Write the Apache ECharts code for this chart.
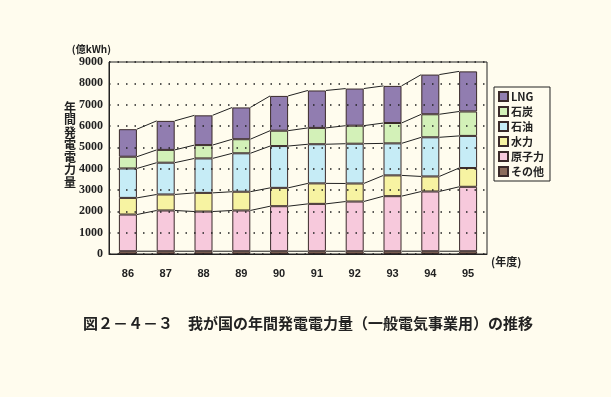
<!DOCTYPE html>
<html>
<head>
<meta charset="utf-8">
<script src="https://cdn.jsdelivr.net/npm/echarts@6/dist/echarts.min.js"></script>
<style>
  html, body { margin: 0; padding: 0; background: #fffcee; }
  #chart { width: 611px; height: 397px; }
</style>
</head>
<body>
<div id="chart"></div>
<script>
// 年度
var years = ['86', '87', '88', '89', '90', '91', '92', '93', '94', '95'];
// 億kWh
var other   = [130, 130, 130, 130, 130, 130, 130, 130, 130, 130];
var nuclear = [1720, 1910, 1860, 1910, 2110, 2220, 2330, 2580, 2800, 3020];
var hydro   = [780, 750, 875, 880, 860, 960, 845, 975, 705, 880];
var oil     = [1380, 1490, 1615, 1800, 1960, 1835, 1865, 1500, 1835, 1505];
var coal    = [550, 600, 625, 660, 720, 765, 845, 955, 1080, 1145];
var lng     = [1290, 1360, 1395, 1490, 1630, 1755, 1740, 1740, 1860, 1880];

var names = ['その他', '原子力', '水力', '石油', '石炭', 'LNG'];
var colors = ['#8c6c5c', '#f7c9dc', '#f7f3a2', '#c6ecf6', '#d3f1b8', '#917db0'];
var layers = [other, nuclear, hydro, oil, coal, lng];

// 各境界の累積値
var cum = [];
var run = years.map(function () { return 0; });
layers.forEach(function (arr) {
    run = run.map(function (v, i) { return v + arr[i]; });
    cum.push(run.slice());
});

var barW = 18;
var myChart = echarts.init(document.getElementById('chart'));

var series = layers.map(function (arr, k) {
    return {
        name: names[k],
        type: 'bar',
        stack: 'total',
        barWidth: barW,
        data: arr,
        itemStyle: { color: colors[k], borderColor: '#3a2a2a', borderWidth: 1 }
    };
});

// 棒と棒をつなぐ線
series.push({
    type: 'custom',
    silent: true,
    z: 4,
    data: years.slice(0, -1).map(function (y, i) { return [i]; }),
    encode: { x: 0 },
    renderItem: function (params, api) {
        var i = api.value(0);
        var kids = cum.map(function (c) {
            var a = api.coord([i, c[i]]);
            var b = api.coord([i + 1, c[i + 1]]);
            return {
                type: 'line',
                shape: { x1: a[0] + barW / 2, y1: a[1], x2: b[0] - barW / 2, y2: b[1] },
                style: { stroke: '#222', lineWidth: 1 }
            };
        });
        return { type: 'group', children: kids };
    }
});

var option = {
    backgroundColor: '#fffcee',
    animation: false,
    grid: {
        left: 109, right: 124, top: 62, bottom: 143,
        show: true, borderColor: '#222', borderWidth: 1
    },
    legend: {
        orient: 'vertical',
        left: 494, top: 87,
        width: 55,
        data: ['LNG', '石炭', '石油', '水力', '原子力', 'その他'],
        icon: 'rect',
        itemWidth: 9, itemHeight: 9, itemGap: 4,
        padding: [4, 6, 4, 4],
        borderColor: '#222', borderWidth: 1,
        textStyle: { fontSize: 11, fontWeight: 'bold', color: '#222', fontFamily: 'Noto Sans CJK JP', padding: [0, 0, 0, -2] }
    },
    xAxis: {
        type: 'category',
        data: years,
        axisLine: { lineStyle: { color: '#222' } },
        axisTick: { show: false },
        axisLabel: { margin: 14, fontSize: 11, fontWeight: 'bold', color: '#222', fontFamily: 'Liberation Sans' },
        name: '(年度)',
        nameLocation: 'end',
        nameGap: 4,
        nameTextStyle: { fontSize: 11, fontWeight: 'bold', color: '#222', fontFamily: 'Noto Sans CJK JP', verticalAlign: 'top', padding: [2, 0, 0, 0] }
    },
    yAxis: {
        type: 'value',
        min: 0, max: 9000, interval: 1000,
        z: 3,
        axisLine: { show: true, lineStyle: { color: '#222' } },
        axisTick: { show: false },
        axisLabel: {
            fontSize: 12, fontWeight: 'bold', color: '#222', margin: 6,
            fontFamily: 'Liberation Serif',
            formatter: function (v) { return String(v); }
        },
        splitLine: { lineStyle: { color: '#222', type: [1.5, 7], width: 1.5 } },
        name: '(億kWh)',
        nameGap: 8,
        nameTextStyle: { fontSize: 10, fontWeight: 'bold', color: '#222', align: 'right', padding: [0, -2, 0, 0], fontFamily: 'Noto Sans CJK JP' }
    },
    graphic: [
        {
            type: 'text', left: 64, top: 101,
            style: { text: '年\n間\n発\n電\n電\n力\n量', fontSize: 12, lineHeight: 12.5, fontWeight: 'bold', fill: '#222', fontFamily: 'Noto Sans CJK JP' }
        },
        {
            type: 'text', left: 83, top: 316,
            style: { text: '図２－４－３　我が国の年間発電電力量（一般電気事業用）の推移', fontSize: 15, fontWeight: 'bold', fill: '#222', fontFamily: 'Noto Sans CJK JP' }
        }
    ],
    series: series
};

myChart.setOption(option);
</script>
</body>
</html>
